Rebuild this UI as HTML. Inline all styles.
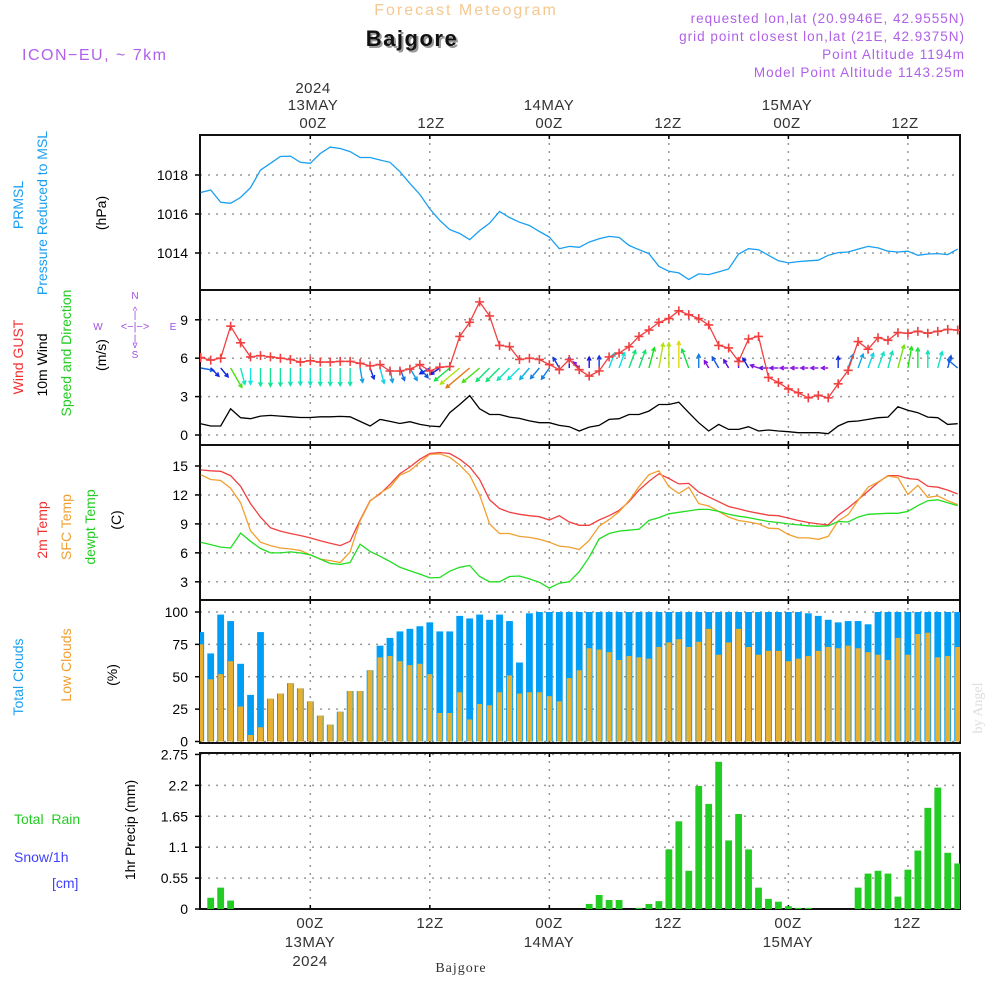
<!DOCTYPE html>
<html><head><meta charset="utf-8"><style>
html,body{margin:0;padding:0;background:#fff}
svg{display:block;font-family:"Liberation Sans",sans-serif}
</style></head><body>
<svg id="chart" width="1000" height="1000" viewBox="0 0 1000 1000" xmlns="http://www.w3.org/2000/svg">
<rect width="1000" height="1000" fill="#fff"/>
<text x="466" y="15" text-anchor="middle" font-size="16" fill="#f5c890" letter-spacing="2">Forecast Meteogram</text>
<text x="414" y="48" text-anchor="middle" font-size="22" font-weight="bold" fill="#999" letter-spacing="1.5">Bajgore</text>
<text x="412" y="46" text-anchor="middle" font-size="22" font-weight="bold" fill="#111" letter-spacing="1.5">Bajgore</text>
<text x="22" y="60" font-size="16" fill="#b060e8" letter-spacing="1.5">ICON−EU, ~ 7km</text>
<g font-size="13.5" fill="#b060e8" text-anchor="end" letter-spacing="1">
<text x="965" y="23">requested lon,lat (20.9946E, 42.9555N)</text>
<text x="965" y="41">grid point closest lon,lat (21E, 42.9375N)</text>
<text x="965" y="59">Point Altitude 1194m</text>
<text x="965" y="77">Model Point Altitude 1143.25m</text>
</g>
<g id="axes"></g>
<g id="marks"></g>
<g font-size="15" fill="#333" text-anchor="middle" letter-spacing="0.5">
<text x="313" y="93">2024</text>
<text x="313" y="110">13MAY</text>
<text x="313" y="128">00Z</text>
<text x="431" y="128">12Z</text>
<text x="549" y="110">14MAY</text>
<text x="549" y="128">00Z</text>
<text x="668" y="128">12Z</text>
<text x="787" y="110">15MAY</text>
<text x="787" y="128">00Z</text>
<text x="905" y="128">12Z</text>
<text x="310" y="928">00Z</text>
<text x="310" y="947">13MAY</text>
<text x="310" y="966">2024</text>
<text x="430" y="928">12Z</text>
<text x="549" y="928">00Z</text>
<text x="549" y="947">14MAY</text>
<text x="668" y="928">12Z</text>
<text x="788" y="928">00Z</text>
<text x="788" y="947">15MAY</text>
<text x="907" y="928">12Z</text>
</g>
<text x="461" y="972" text-anchor="middle" font-size="14" font-family="Liberation Serif, serif" fill="#333" letter-spacing="1">Bajgore</text>
<g font-size="14" text-anchor="middle">
<text transform="translate(23,205) rotate(-90)" fill="#1a9ff0">PRMSL</text>
<text transform="translate(47,213) rotate(-90)" fill="#1a9ff0">Pressure Reduced to MSL</text>
<text transform="translate(106,213) rotate(-90)" fill="#000">(hPa)</text>
<text transform="translate(23,357) rotate(-90)" fill="#f03030">Wind GUST</text>
<text transform="translate(47,365) rotate(-90)" fill="#000">10m Wind</text>
<text transform="translate(71,353) rotate(-90)" fill="#22cc22">Speed and Direction</text>
<text transform="translate(106,355) rotate(-90)" fill="#000">(m/s)</text>
<text transform="translate(47,530) rotate(-90)" fill="#f03030">2m Temp</text>
<text transform="translate(71,527) rotate(-90)" fill="#f0a030">SFC Temp</text>
<text transform="translate(95,527) rotate(-90)" fill="#22cc22">dewpt Temp</text>
<text transform="translate(121,520) rotate(-90)" fill="#000">(C)</text>
<text transform="translate(23,677) rotate(-90)" fill="#1a9ff0">Total Clouds</text>
<text transform="translate(71,665) rotate(-90)" fill="#f0a030">Low Clouds</text>
<text transform="translate(117,675) rotate(-90)" fill="#000">(%)</text>
<text transform="translate(135,830) rotate(-90)" fill="#000">1hr Precip (mm)</text>
<text transform="translate(982,708) rotate(-90)" fill="#ddd" font-family="Liberation Serif, serif">by Angel</text>
</g>
<g font-size="14">
<text x="14" y="824" fill="#22cc22" xml:space="preserve">Total  Rain</text>
<text x="14" y="862" fill="#4040ff">Snow/1h</text>
<text x="52" y="888" fill="#4040ff">[cm]</text>
</g>
<g font-size="10" fill="#a050e0" text-anchor="middle">
<text x="135" y="299">N</text><text x="135" y="358">S</text><text x="98" y="330">W</text><text x="173" y="330">E</text>
<text x="135" y="330" font-size="11">&lt;−|−&gt;</text>
<text x="135" y="314">^</text><text x="135" y="318">|</text><text x="135" y="342">|</text><text x="135" y="348">v</text>
</g>
<script>
const hours=[];for(let t=-11;t<=65;t++)hours.push(t);
const pressure=[1017.1,1017.23,1016.6,1016.55,1016.85,1017.35,1018.25,1018.6,1018.95,1018.97,1018.65,1018.6,1019.1,1019.43,1019.36,1019.2,1018.9,1018.9,1018.77,1018.65,1018.17,1017.57,1017.0,1016.26,1015.67,1015.2,1015.0,1014.68,1015.15,1015.53,1016.13,1015.82,1015.58,1015.41,1015.1,1014.82,1014.22,1014.34,1014.29,1014.56,1014.73,1014.85,1014.8,1014.39,1014.17,1013.97,1013.32,1013.06,1012.98,1012.64,1012.93,1012.89,1013.03,1013.18,1013.95,1014.22,1014.17,1013.88,1013.6,1013.49,1013.56,1013.6,1013.63,1013.88,1014.02,1014.05,1014.2,1014.34,1014.26,1014.09,1014.05,1014.09,1013.88,1013.95,1013.97,1013.92,1014.2];
const gust=[6.05,5.85,6.0,8.5,7.2,6.1,6.2,6.1,6.0,5.9,5.7,5.8,5.7,5.7,5.75,5.75,5.6,5.4,5.5,5.0,5.0,5.15,5.5,5.0,5.3,5.35,7.7,8.8,10.4,9.3,7.0,6.9,5.9,6.0,5.9,5.5,5.1,5.9,5.1,4.6,5.0,6.1,6.4,6.9,7.7,8.2,8.8,9.1,9.7,9.4,9.1,8.6,7.0,6.8,5.75,7.5,7.7,4.5,4.1,3.6,3.3,2.9,3.1,2.9,4.0,5.05,7.3,6.7,7.6,7.4,8.0,7.95,8.1,7.95,8.1,8.25,8.2];
const wind10=[0.88,0.7,0.7,2.05,1.35,1.27,1.48,1.53,1.48,1.42,1.37,1.37,1.42,1.42,1.45,1.42,1.06,0.7,1.22,1.06,0.9,1.04,0.83,0.7,0.65,1.74,2.38,3.08,2.05,1.6,1.6,1.4,1.3,1.1,0.96,0.96,0.75,0.65,0.31,0.62,0.75,1.22,1.27,1.6,1.6,1.87,2.38,2.38,2.56,1.74,0.96,0.31,0.83,0.44,0.44,0.65,0.31,0.39,0.31,0.26,0.18,0.18,0.18,0.1,0.7,1.04,1.09,1.22,1.35,1.4,2.2,1.94,1.74,1.4,1.35,0.83,0.88];
const windDir=[280,315,320,330,345,0,0,0,0,0,0,0,0,0,0,0,350,340,345,350,340,330,320,60,55,50,50,50,50,45,45,45,45,40,40,35,150,180,135,180,180,200,200,200,200,195,190,180,180,160,180,150,150,150,180,150,110,90,90,90,90,90,90,90,180,200,200,200,200,195,195,190,180,180,195,195,130,120];
const temp2m=[14.6,14.5,14.45,14.0,12.9,11.1,9.7,8.6,8.25,8.0,7.8,7.55,7.25,7.0,6.75,7.2,9.4,11.4,12.1,13.1,14.2,14.9,15.7,16.3,16.4,16.3,15.7,14.9,13.6,11.5,10.6,10.2,10.0,9.85,9.75,9.4,9.85,9.2,8.85,8.85,9.4,9.85,10.4,11.3,12.5,13.4,14.2,13.7,13.15,13.2,12.3,11.8,11.3,10.8,10.55,10.3,10.1,9.9,9.85,9.6,9.35,9.15,9.0,8.9,9.9,10.65,11.5,12.4,13.3,14.0,14.0,13.7,13.6,12.9,12.8,12.5,12.1];
const tempSfc=[14.1,13.6,13.5,12.7,11.2,8.3,7.1,6.75,6.5,6.4,6.25,5.8,5.35,5.2,5.0,6.1,9.3,11.35,12.2,12.8,14.05,14.5,15.4,16.2,16.25,15.9,15.1,14.05,12.0,9.0,8.0,8.0,7.7,7.6,7.4,7.1,6.7,6.6,6.35,7.3,8.75,9.45,10.25,11.4,12.85,14.1,14.5,12.85,12.15,12.8,11.1,10.85,10.3,9.7,9.35,9.2,9.0,8.55,8.5,7.9,7.55,7.55,7.4,7.7,9.3,9.95,11.45,12.8,13.35,13.95,13.8,12.05,13.0,11.75,11.9,11.4,11.0];
const dewpt=[7.1,6.85,6.6,6.5,8.05,7.2,6.45,6.0,6.0,6.1,6.0,5.8,5.35,4.9,4.8,5.0,6.9,6.15,5.65,5.1,4.5,4.15,3.8,3.4,3.45,4.1,4.5,4.7,3.55,3.0,3.0,3.55,3.6,3.3,2.95,2.35,2.85,3.0,4.05,5.55,7.45,8.0,8.25,8.35,8.45,9.35,9.65,10.05,10.2,10.35,10.5,10.5,10.3,10.0,9.8,9.65,9.45,9.25,9.15,9.0,8.9,8.8,8.75,8.8,9.25,9.2,9.7,10.0,10.05,10.1,10.1,10.3,10.9,11.4,11.5,11.2,10.9];
const totalCloud=[84.5,68,98,93,60,36,84.5,33,37,45,41,31,20,13,23,39,39,55,74,80,85,87,89,92,85,85,97,95,98,94,98,93,61,99,100,100,100,100,100,100,100,100,100,100,100,100,100,100,100,100,100,100,100,100,100,100,100,100,100,100,100,99,97,94,92,93,93,90.5,100,100,100,100,100,100,100,100,100];
const lowCloud=[75,48,52,62,27,5,11,33,37,45,41,31,20,13,23,39,39,55,65,66,62,59,60,52,22,22,38,17,29,28,38,51,37,38,38,35,31,49,55,72,71,69,63,66,65,64,73,76.5,79,73,77,87,67,76.5,87,73,67,70,70,62,64,66,70,73,72,74,72,69,67,63,80,67,83,84,65,66,73];
const precip=[0,0.2,0.38,0.15,0,0,0,0,0,0,0,0,0,0,0,0,0,0,0,0,0,0,0,0,0,0,0,0,0,0,0,0,0,0,0,0,0,0,0,0.09,0.25,0.16,0.16,0,0.02,0.09,0.14,1.06,1.56,0.68,2.19,1.87,2.62,1.22,1.69,1.06,0.38,0.18,0.13,0.05,0.02,0.02,0,0,0,0,0.38,0.63,0.68,0.63,0.22,0.7,1.04,1.8,2.16,1.0,0.81];
const pressTicks=[1014,1016,1018];
const windTicks=[0,3,6,9];
const tempTicks=[3,6,9,12,15];
const cloudTicks=[0,25,50,75,100];
const precipTicks=[0,0.55,1.1,1.65,2.2,2.75];
const timeGrid=[0,12,24,36,48,60];

const NS="http://www.w3.org/2000/svg";
const X0=200,X1=960;
const X=t=>310.3+9.96*t;
const Yp=v=>175+(1018-v)*19.5;
const Yw=v=>435-v*12.8;
const Yt=v=>466+(15-v)*9.65;
const Yc=v=>741.5-v*1.295;
const Yr=v=>909-v*56.2;
const axes=document.getElementById('axes'),marks=document.getElementById('marks');
function mk(tag,attrs,parent){const e=document.createElementNS(NS,tag);for(const k in attrs)e.setAttribute(k,attrs[k]);(parent||marks).appendChild(e);return e;}
const panels=[
 {name:'pressure',y0:135,y1:290,ticks:pressTicks,f:Yp,fmt:v=>String(v)},
 {name:'wind',y0:290,y1:445,ticks:windTicks,f:Yw,fmt:v=>String(v)},
 {name:'temperature',y0:445,y1:600,ticks:tempTicks,f:Yt,fmt:v=>String(v)},
 {name:'clouds',y0:600,y1:743,ticks:cloudTicks,f:Yc,fmt:v=>String(v)},
 {name:'precip',y0:753,y1:909,ticks:precipTicks,f:Yr,fmt:v=>String(v)}
];
panels.forEach(p=>{
 const g=mk('g',{},axes);
 
 
 timeGrid.forEach(t=>{const l=mk('line',{x1:X(t),x2:X(t),y1:p.y0,y2:p.y1,stroke:'#999','stroke-dasharray':'2 6','stroke-width':1.5},g);
  
  mk('line',{x1:X(t),x2:X(t),y1:p.y0,y2:p.y0+4,stroke:'#000','stroke-width':1.5},g);
  mk('line',{x1:X(t),x2:X(t),y1:p.y1,y2:p.y1-4,stroke:'#000','stroke-width':1.5},g);});
 p.ticks.forEach(v=>{const y=p.f(v);
  const l=mk('line',{x1:X0,x2:X1,y1:y,y2:y,stroke:'#999','stroke-dasharray':'2 6','stroke-width':1.5},g);
  
  mk('line',{x1:X0-5,x2:X0,y1:y,y2:y,stroke:'#000','stroke-width':1.5},g);
  const tx=mk('text',{x:X0-12,y:y+5,'text-anchor':'end','font-size':14,fill:'#000'},g);
  tx.textContent=p.fmt(v);
  });
 const r=mk('rect',{x:X0,y:p.y0,width:X1-X0,height:p.y1-p.y0,fill:'none',stroke:'#111','stroke-width':2},g);
 
});
function line(arr,f,color,name){const d=arr.map((v,i)=>(i?'L':'M')+X(hours[i]).toFixed(1)+' '+f(v).toFixed(1)).join(' ');
 const p=mk('path',{d:d,fill:'none',stroke:color,'stroke-width':1.3,'clip-path':'url(#clip)'});
 return p;}
const defs=mk('defs',{},document.getElementById('chart'));
const cp=mk('clipPath',{id:'clip'},defs);mk('rect',{x:X0,y:0,width:X1-X0,height:1000},cp);
hours.forEach((t,i)=>{const x=X(t);
 const b=mk('rect',{x:x-3.4,y:Yc(totalCloud[i]),width:6.8,height:Yc(0)-Yc(totalCloud[i]),fill:'#009ef5','clip-path':'url(#clip)'});
 
 const l=mk('rect',{x:x-2.5,y:Yc(lowCloud[i]),width:5,height:Yc(0)-Yc(lowCloud[i]),fill:'#e8b030','clip-path':'url(#clip)'});
 
 if(precip[i]>0){const r=mk('rect',{x:x-3.4,y:Yr(precip[i]),width:6.8,height:Yr(0)-Yr(precip[i]),fill:'#22cc22','clip-path':'url(#clip)'});
 }
});
line(pressure,Yp,'#1a9ff0','pressure-line');
line(temp2m,Yt,'#f04040','temp-2m-line');
line(tempSfc,Yt,'#f0a030','temp-sfc-line');
line(dewpt,Yt,'#22dd22','dewpoint-line');
line(wind10,Yw,'#000','wind-10m-line');
hours.forEach((t,i)=>{const s=wind10[i],L=6+8*s,th=(windDir[i]+180)*Math.PI/180;
 const x=X(t),y=368,dx=Math.sin(th)*L,dy=-Math.cos(th)*L;
 const hue=Math.max(30,Math.min(275,300-s*95));const c='hsl('+hue+',85%,48%)';
 const g=mk('g',{stroke:c,'stroke-width':1.4,fill:'none'});
 
 mk('line',{x1:x,y1:y,x2:x+dx,y2:y+dy},g);
 const a=Math.atan2(dy,dx),h=4;
 mk('path',{d:'M'+(x+dx-h*Math.cos(a-0.5))+' '+(y+dy-h*Math.sin(a-0.5))+' L'+(x+dx)+' '+(y+dy)+' L'+(x+dx-h*Math.cos(a+0.5))+' '+(y+dy-h*Math.sin(a+0.5))},g);
});
line(gust,Yw,'#f04040','gust-line');
hours.forEach((t,i)=>{const x=X(t),y=Yw(gust[i]);
 const m=mk('path',{d:'M'+(x-4.5)+' '+y+' H'+(x+4.5)+' M'+x+' '+(y-4.5)+' V'+(y+4.5),stroke:'#f04040','stroke-width':1.6,'clip-path':'url(#clip)'});
 });
</script>
</svg>
</body></html>
